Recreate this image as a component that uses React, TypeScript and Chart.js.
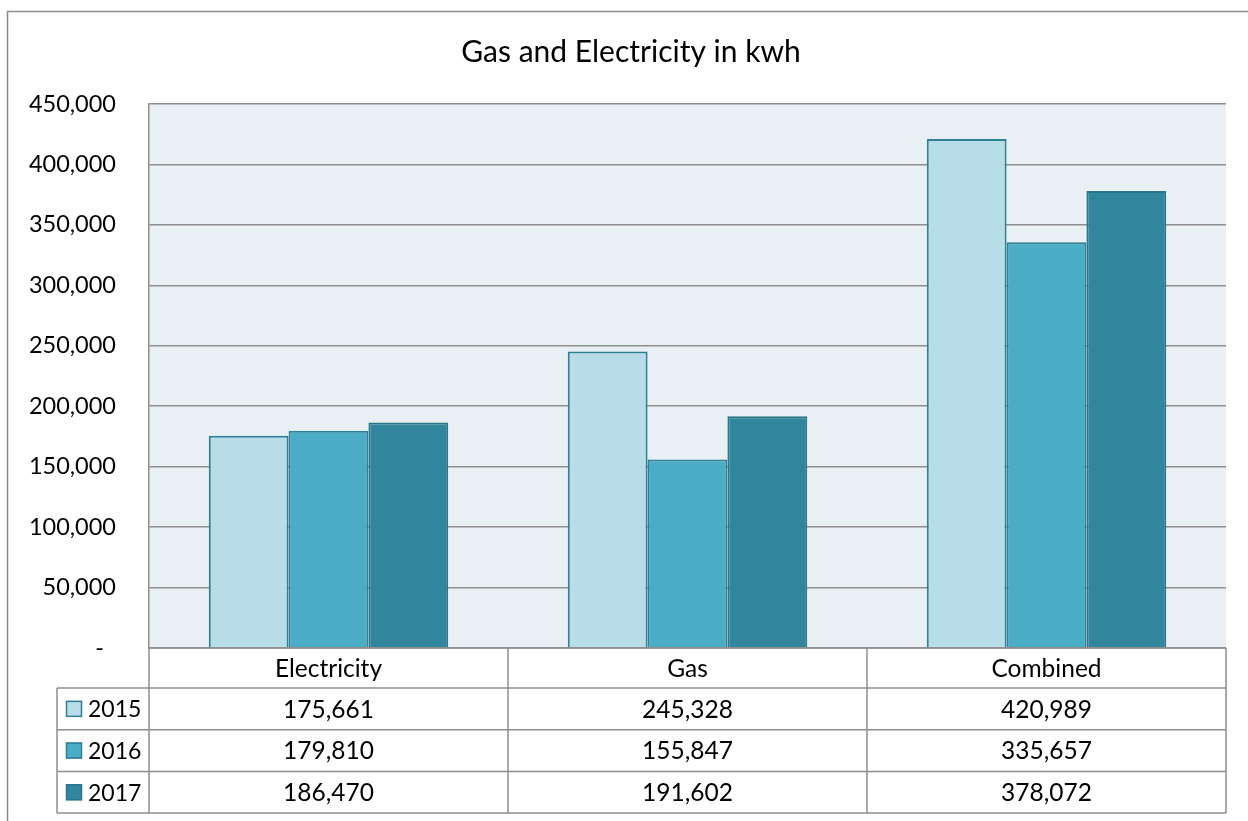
import React, { useEffect, useRef } from "react";
import { Chart, registerables } from "chart.js";

Chart.register(...registerables);

const categories = ["Electricity", "Gas", "Combined"];
const seriesYears = ["2015", "2016", "2017"];
const values2015 = [175661, 245328, 420989];
const values2016 = [179810, 155847, 335657];
const values2017 = [186470, 191602, 378072];
const yTicks = [0, 50000, 100000, 150000, 200000, 250000, 300000, 350000, 400000, 450000];

const fills = ["#B7DDE8", "#4BACC6", "#31859C"];
const edges = ["#2F7F95", "#2F7F95", "#2B7689"];
const FONT = "Lato, 'Open Sans', sans-serif";
const GRID = "#8E8E8E";

const fmt = (v: number) => v.toLocaleString("en-US");
// accounting-style axis label: zero shown as a dash
const axisFmt = (v: number) => (v === 0 ? "-  " : fmt(v));

const tablePlugin = {
  id: "frameAndTable",
  beforeDraw(chart: any) {
    const { ctx, chartArea: a } = chart;
    ctx.save();
    ctx.fillStyle = "#FFFFFF";
    ctx.fillRect(0, 0, chart.width, chart.height);
    ctx.fillStyle = "#E8F0F3";
    ctx.fillRect(a.left, a.top, a.right - a.left, a.bottom - a.top);
    ctx.restore();
  },
  afterDraw(chart: any) {
    const { ctx, chartArea: a } = chart;
    const series = [values2015, values2016, values2017];
    ctx.save();

    // outer frame
    ctx.strokeStyle = "#8C8C8C";
    ctx.lineWidth = 1.5;
    ctx.strokeRect(7.5, 11.5, chart.width + 20, chart.height + 20);

    // title
    ctx.fillStyle = "#000";
    ctx.font = `30px ${FONT}`;
    ctx.textAlign = "center";
    ctx.textBaseline = "middle";
    ctx.fillText("Gas and Electricity in kwh", 631, 52);

    // data table
    const colW = (a.right - a.left) / categories.length;
    const headTop = a.bottom;
    const headH = 40;
    const rowH = 41.7;
    const legendLeft = 57;
    const tableBottom = headTop + headH + rowH * series.length;

    ctx.strokeStyle = GRID;
    ctx.lineWidth = 1.5;
    ctx.beginPath();
    ctx.moveTo(a.left, headTop);
    ctx.lineTo(a.right, headTop);
    for (let r = 0; r <= series.length; r++) {
      const y = headTop + headH + r * rowH;
      ctx.moveTo(legendLeft, y);
      ctx.lineTo(a.right, y);
    }
    for (let c = 0; c <= categories.length; c++) {
      const x = a.left + c * colW;
      ctx.moveTo(x, headTop);
      ctx.lineTo(x, tableBottom);
    }
    ctx.moveTo(legendLeft, headTop + headH);
    ctx.lineTo(legendLeft, tableBottom);
    ctx.stroke();

    ctx.font = `24.5px ${FONT}`;
    ctx.fillStyle = "#000";
    ctx.textBaseline = "middle";
    ctx.textAlign = "center";
    categories.forEach((cat, c) => {
      ctx.fillText(cat, a.left + (c + 0.5) * colW, headTop + headH / 2 + 1);
    });
    series.forEach((vals, r) => {
      const cy = headTop + headH + (r + 0.5) * rowH + 1;
      ctx.font = `24.5px ${FONT}`;
      vals.forEach((v, c) => {
        ctx.textAlign = "center";
        ctx.fillText(fmt(v), a.left + (c + 0.5) * colW, cy);
      });
      // legend key
      ctx.fillStyle = fills[r];
      ctx.fillRect(66, cy - 9, 16, 16);
      ctx.strokeStyle = edges[r];
      ctx.lineWidth = 1.5;
      ctx.strokeRect(66.5, cy - 8.5, 15, 15);
      ctx.fillStyle = "#000";
      ctx.textAlign = "left";
      ctx.font = `23px ${FONT}`;
      ctx.fillText(seriesYears[r], 88, cy);
    });
    ctx.restore();
  },
};

export default function App() {
  const ref = useRef<HTMLCanvasElement | null>(null);

  useEffect(() => {
    if (!ref.current) return;
    const chart = new Chart(ref.current, {
      type: "bar",
      data: {
        labels: categories,
        datasets: [values2015, values2016, values2017].map((d, i) => ({
          label: seriesYears[i],
          data: d,
          backgroundColor: fills[i],
          borderColor: edges[i],
          borderWidth: 2,
          barPercentage: 1,
          categoryPercentage: 0.667,
        })),
      },
      options: {
        responsive: false,
        animation: false,
        layout: { padding: { top: 104, bottom: 173, left: 0, right: 22 } },
        plugins: {
          legend: { display: false },
          title: { display: false },
          tooltip: { enabled: false },
        },
        scales: {
          x: { display: false },
          y: {
            min: 0,
            max: 450000,
            afterFit: (s: any) => {
              s.width = 149;
            },
            afterBuildTicks: (s: any) => {
              s.ticks = yTicks.map((v) => ({ value: v }));
            },
            ticks: {
              padding: 33,
              color: "#000",
              font: { family: FONT, size: 23.5 },
              callback: (v: any) => axisFmt(Number(v)),
            },
            grid: { color: GRID, lineWidth: 1.5, drawTicks: false },
            border: { display: true, color: GRID, width: 1.5 },
          },
        },
      },
      plugins: [tablePlugin],
    });
    return () => chart.destroy();
  }, []);

  return (
    <div style={{ position: "fixed", left: 0, top: 0, width: 1248, height: 821, background: "#fff" }}>
      <canvas ref={ref} width={1248} height={821} style={{ display: "block" }} />
    </div>
  );
}
